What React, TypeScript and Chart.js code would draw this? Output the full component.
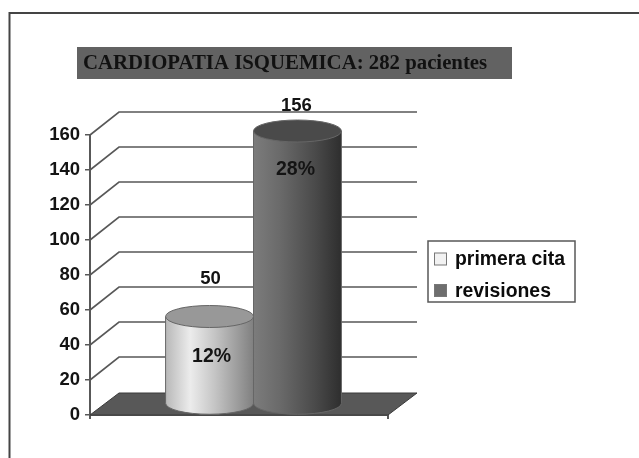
import React, { useEffect, useRef } from "react";
import { Chart, registerables } from "chart.js";

Chart.register(...registerables);

const categories = ["CARDIOPATIA ISQUEMICA"];
const seriesNames = ["primera cita", "revisiones"];
const primeraCita = [50];
const revisiones = [156];
const percentLabels = ["12%", "28%"];
const titleText = "CARDIOPATIA ISQUEMICA: 282 pacientes";
const yTicks = [0, 20, 40, 60, 80, 100, 120, 140, 160];

const INK = "#141414";
const LINE = "#585858";
const DEPTH_X = 29;
const DEPTH_Y = 22;
const SANS = '"Liberation Sans", Arial, sans-serif';
const SERIF = '"Liberation Serif", "Times New Roman", serif';

const stops = [
  [[0, "#b8b8b8"], [0.28, "#ececec"], [0.55, "#c6c6c6"], [1, "#808080"]],
  [[0, "#7c7c7c"], [0.3, "#6a6a6a"], [0.7, "#4a4a4a"], [1, "#2e2e2e"]],
] as [number, string][][];
const capColors = ["#989898", "#4a4a4a"];
const valueLift = [49, 36];
const valueShift = [1, -1];
const percentDrop = [29, 28];
const percentShift = [2, -2];

const threeD = {
  id: "threeD",
  afterLayout(chart: any) {
    chart.titleBlock.left = 83;
    chart.titleBlock.right = 620;
  },
  beforeDraw(chart: any) {
    const { ctx, width, height } = chart;
    ctx.save();
    ctx.fillStyle = "#fff";
    ctx.fillRect(0, 0, width, height);
    ctx.strokeStyle = "#444";
    ctx.lineWidth = 2;
    ctx.beginPath();
    ctx.moveTo(9.5, height);
    ctx.lineTo(9.5, 13);
    ctx.lineTo(width, 13);
    ctx.stroke();
    // title background
    ctx.fillStyle = "#626262";
    ctx.fillRect(77, 47, 435, 32);
    ctx.restore();
  },
  beforeDatasetsDraw(chart: any) {
    const { ctx, chartArea, scales } = chart;
    const { left, right } = chartArea;
    const y = scales.y;
    ctx.save();
    // floor
    const y0 = y.getPixelForValue(0);
    ctx.fillStyle = "#585858";
    ctx.strokeStyle = "#3a3a3a";
    ctx.lineWidth = 1;
    ctx.beginPath();
    ctx.moveTo(left, y0);
    ctx.lineTo(left + DEPTH_X, y0 - DEPTH_Y);
    ctx.lineTo(right + DEPTH_X, y0 - DEPTH_Y);
    ctx.lineTo(right, y0);
    ctx.closePath();
    ctx.fill();
    ctx.stroke();
    // side and back wall lines
    ctx.strokeStyle = LINE;
    ctx.lineWidth = 1.6;
    yTicks.forEach((v) => {
      if (v === 0) return;
      const p = y.getPixelForValue(v);
      ctx.beginPath();
      ctx.moveTo(left, p);
      ctx.lineTo(left + DEPTH_X, p - DEPTH_Y - 1);
      ctx.lineTo(right + DEPTH_X, p - DEPTH_Y - 1);
      ctx.stroke();
    });
    ctx.restore();
  },
  beforeDatasetDraw(chart: any, args: any) {
    const { ctx } = chart;
    const i = args.index;
    const bar = chart.getDatasetMeta(i).data[0];
    const half = bar.width / 2;
    const g = ctx.createLinearGradient(bar.x - half, 0, bar.x + half, 0);
    stops[i].forEach(([o, c]) => g.addColorStop(o, c));
    bar.options.backgroundColor = g;
    bar.options.borderWidth = 0;
    ctx.save();
    ctx.translate(DEPTH_X / 2, -DEPTH_Y / 2);
    // rounded foot of the cylinder
    ctx.fillStyle = g;
    ctx.beginPath();
    ctx.moveTo(bar.x - half, bar.base - 2);
    ctx.lineTo(bar.x + half, bar.base - 2);
    ctx.lineTo(bar.x + half, bar.base);
    ctx.ellipse(bar.x, bar.base, half, 11, 0, 0, Math.PI);
    ctx.closePath();
    ctx.fill();
  },
  afterDatasetDraw(chart: any, args: any) {
    const { ctx } = chart;
    const i = args.index;
    const bar = chart.getDatasetMeta(i).data[0];
    const half = bar.width / 2;
    ctx.strokeStyle = "#666";
    ctx.lineWidth = 1;
    ctx.beginPath();
    ctx.moveTo(bar.x - half, bar.y);
    ctx.lineTo(bar.x - half, bar.base);
    ctx.ellipse(bar.x, bar.base, half, 11, 0, Math.PI, 0, true);
    ctx.lineTo(bar.x + half, bar.y);
    ctx.stroke();
    ctx.fillStyle = capColors[i];
    ctx.beginPath();
    ctx.ellipse(bar.x, bar.y, half, 11, 0, 0, Math.PI * 2);
    ctx.fill();
    ctx.stroke();
    ctx.restore();
  },
  afterDatasetsDraw(chart: any) {
    const { ctx, data } = chart;
    ctx.save();
    ctx.fillStyle = INK;
    ctx.textAlign = "center";
    ctx.textBaseline = "middle";
    data.datasets.forEach((ds: any, i: number) => {
      const bar = chart.getDatasetMeta(i).data[0];
      const cx = bar.x + DEPTH_X / 2;
      ctx.font = `bold 18.5px ${SANS}`;
      ctx.fillText(String(ds.data[0]), cx + valueShift[i], bar.y - valueLift[i]);
      ctx.font = `bold 19.5px ${SANS}`;
      ctx.fillText(percentLabels[i], cx + percentShift[i], bar.y + percentDrop[i]);
    });
    // legend
    ctx.fillStyle = "#fff";
    ctx.strokeStyle = LINE;
    ctx.lineWidth = 1.5;
    ctx.fillRect(428, 241, 147, 61);
    ctx.strokeRect(428, 241, 147, 61);
    ctx.textAlign = "left";
    ctx.font = `bold 19.4px ${SANS}`;
    data.datasets.forEach((ds: any, i: number) => {
      const top = 253 + i * 31.5;
      ctx.fillStyle = i === 0 ? "#f2f2f2" : "#6e6e6e";
      ctx.strokeStyle = "#777";
      ctx.lineWidth = 1;
      ctx.fillRect(434.5, top, 12, 12);
      ctx.strokeRect(434.5, top, 12, 12);
      ctx.fillStyle = "#0c0c0c";
      ctx.fillText(ds.label, 455, top + 7);
    });
    ctx.restore();
  },
};

export default function App() {
  const ref = useRef<HTMLCanvasElement>(null);
  useEffect(() => {
    document.body.style.margin = "0";
    const chart = new Chart(ref.current!, {
      type: "bar",
      data: {
        labels: categories,
        datasets: [
          { label: seriesNames[0], data: primeraCita, backgroundColor: "#e0e0e0" },
          { label: seriesNames[1], data: revisiones, backgroundColor: "#5c5c5c" },
        ],
      },
      plugins: [threeD],
      options: {
        responsive: false,
        animation: false,
        events: [],
        clip: false,
        categoryPercentage: 0.59,
        barPercentage: 1,
        layout: { padding: { left: 0, right: 251, top: 0, bottom: 39 } },
        scales: {
          x: {
            offset: true,
            border: { color: LINE, width: 2 },
            grid: { drawOnChartArea: false, offset: true, tickLength: 4, color: LINE, lineWidth: 2 },
            ticks: { display: false },
            afterFit(s: any) { s.height = 4; },
          },
          y: {
            min: 0,
            max: 160,
            afterBuildTicks(s: any) { s.ticks = yTicks.map((value) => ({ value })); },
            border: { color: LINE, width: 2 },
            grid: { drawOnChartArea: false, tickLength: 5, color: LINE, lineWidth: 1.5 },
            ticks: { color: INK, padding: 5, font: { family: SANS, size: 18.5, weight: "bold" } },
            afterFit(s: any) { s.width = 90; },
          },
        },
        plugins: {
          legend: { display: false },
          tooltip: { enabled: false },
          title: {
            display: true,
            text: titleText,
            align: "start",
            color: "#111",
            font: { family: SERIF, size: 20.8, weight: "bold", lineHeight: 1 },
            padding: { top: 53.6, bottom: 60.6 },
          },
        },
      } as any,
    });
    return () => chart.destroy();
  }, []);
  return <canvas ref={ref} width={639} height={458} style={{ display: "block" }} />;
}
